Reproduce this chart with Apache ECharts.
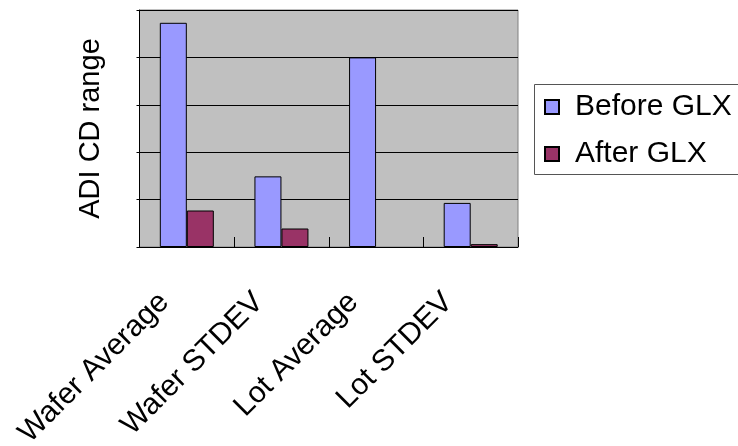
<!DOCTYPE html>
<html>
<head>
<meta charset="utf-8">
<script src="https://cdn.jsdelivr.net/npm/echarts@6/dist/echarts.min.js"></script>
<style>
  html, body { margin: 0; padding: 0; background: #fff; }
  #container { width: 738px; height: 446px; }
</style>
</head>
<body>
<div id="container"></div>
<script>
var categories = ["Wafer Average", "Wafer STDEV", "Lot Average", "Lot STDEV"];
var beforeGLX = [4.73, 1.49, 4.0, 0.93];
var afterGLX = [0.77, 0.39, 0, 0.06];

var dom = document.getElementById("container");
var myChart = echarts.init(dom, null, { renderer: "canvas" });

// excel draws nothing for a zero bar, so drop the outline there
function barData(arr) {
  return arr.map(function (v) {
    return { value: v, itemStyle: { borderWidth: v === 0 ? 0 : 1 } };
  });
}

var option = {
  animation: false,
  textStyle: { fontFamily: "Liberation Sans, Arial, sans-serif", color: "#000" },
  grid: {
    left: 139.5,
    right: 220,
    top: 10,
    bottom: 199,
    outerBoundsMode: "none",
    show: true,
    backgroundColor: "#c0c0c0",
    borderColor: "#808080",
    borderWidth: 1,
  },
  // legend frame runs off the right edge in the original
  graphic: [
    {
      type: "rect",
      shape: { x: 534.5, y: 84.5, width: 300, height: 90 },
      style: { fill: "none", stroke: "#555", lineWidth: 1 },
      silent: true,
    },
  ],
  legend: {
    orient: "vertical",
    left: 534,
    top: 84,
    padding: [8, 10, 8, 10],
    itemWidth: 14,
    itemHeight: 14,
    itemGap: 17,
    icon: "rect",
    textStyle: { fontSize: 30, color: "#000", padding: [0, 0, 0, 11] },
    data: ["Before GLX", "After GLX"],
  },
  xAxis: {
    type: "category",
    data: categories,
    axisLine: { lineStyle: { color: "#000", width: 1 } },
    axisTick: { show: true, inside: true, length: 10, lineStyle: { color: "#000" } },
    axisLabel: {
      rotate: 45,
      fontSize: 30,
      color: "#000",
      margin: 28,
      interval: 0,
      padding: [0, 32, 0, 0],
    },
  },
  yAxis: {
    type: "value",
    min: 0,
    max: 5,
    interval: 1,
    name: "ADI CD range",
    nameLocation: "middle",
    nameGap: 34,
    nameTextStyle: { fontSize: 29, color: "#000" },
    axisLine: { show: true, lineStyle: { color: "#000" } },
    axisTick: { show: true, length: 3, lineStyle: { color: "#000" } },
    axisLabel: { show: false },
    splitLine: { show: true, lineStyle: { color: "#000", width: 1 } },
  },
  series: [
    {
      name: "Before GLX",
      type: "bar",
      data: barData(beforeGLX),
      barWidth: 27,
      barGap: "0%",
      itemStyle: { color: "#9999ff", borderColor: "#000", borderWidth: 1 },
    },
    {
      name: "After GLX",
      type: "bar",
      data: barData(afterGLX),
      barWidth: 27,
      barGap: "0%",
      itemStyle: { color: "#993366", borderColor: "#000", borderWidth: 1 },
    },
  ],
};

myChart.setOption(option);
window.addEventListener("resize", myChart.resize);
</script>
</body>
</html>
